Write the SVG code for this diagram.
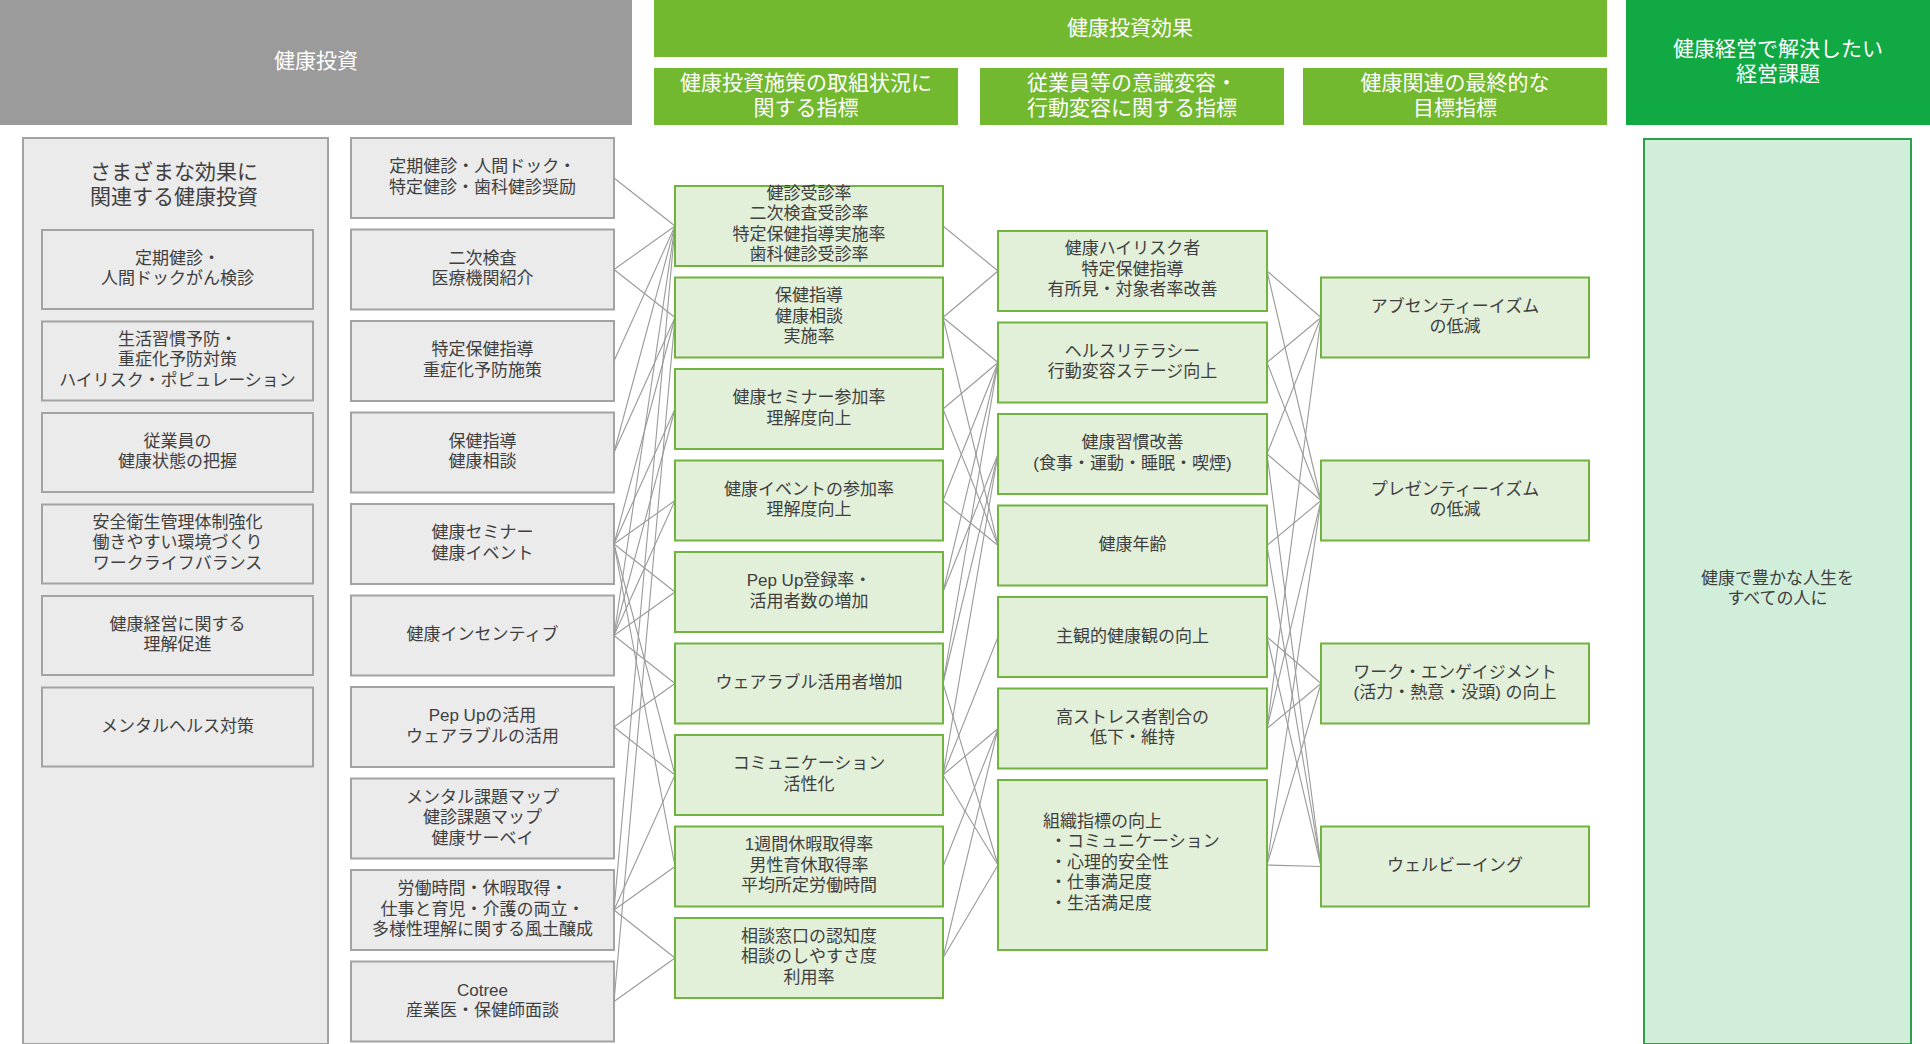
<svg xmlns="http://www.w3.org/2000/svg" width="1930" height="1044" viewBox="0 0 1930 1044">
<style>
text{font-family:"Liberation Sans","Noto Sans CJK JP",sans-serif;}
.t{font-size:17px;fill:#404040;text-anchor:middle;dominant-baseline:central;}
.tl{font-size:17px;fill:#404040;text-anchor:start;dominant-baseline:central;}
.h{font-size:21px;fill:#ffffff;text-anchor:middle;dominant-baseline:central;}
.tt{font-size:21px;fill:#404040;text-anchor:middle;dominant-baseline:central;}
.g{fill:#ebebeb;stroke:#a3a3a3;stroke-width:2;}
.n{fill:#e2efd9;stroke:#70b33e;stroke-width:2;}
.c line{stroke:#9a9a9a;stroke-width:1.1;}
</style>
<rect width="1930" height="1044" fill="#ffffff"/>
<g id="headers">
<rect x="0" y="0" width="632" height="125" fill="#9b9b9b"/>
<text class="h" x="316" y="60">健康投資</text>
<rect x="654" y="0" width="953" height="57" fill="#72b92f"/>
<text class="h" x="1130" y="27">健康投資効果</text>
<rect x="654" y="68" width="304" height="57" fill="#72b92f"/>
<text class="h" x="806" y="82">健康投資施策の取組状況に</text>
<text class="h" x="806" y="107">関する指標</text>
<rect x="980" y="68" width="304" height="57" fill="#72b92f"/>
<text class="h" x="1132" y="82">従業員等の意識変容・</text>
<text class="h" x="1132" y="107">行動変容に関する指標</text>
<rect x="1303" y="68" width="304" height="57" fill="#72b92f"/>
<text class="h" x="1455" y="82">健康関連の最終的な</text>
<text class="h" x="1455" y="107">目標指標</text>
<rect x="1626" y="0" width="304" height="125" fill="#10a944"/>
<text class="h" x="1778" y="48">健康経営で解決したい</text>
<text class="h" x="1778" y="73">経営課題</text>
</g>
<g id="col1">
<rect class="g" x="23" y="138" width="305" height="906"/>
<text class="tt" x="174" y="171">さまざまな効果に</text>
<text class="tt" x="174" y="196">関連する健康投資</text>
</g>
<g id="c1b1"><rect class="g" x="42" y="230" width="271" height="79"/><text class="t" x="177.5" y="258">定期健診・</text><text class="t" x="177.5" y="278.5">人間ドックがん検診</text></g>
<g id="c1b2"><rect class="g" x="42" y="321.5" width="271" height="79"/><text class="t" x="177.5" y="339">生活習慣予防・</text><text class="t" x="177.5" y="359.5">重症化予防対策</text><text class="t" x="177.5" y="380">ハイリスク・ポピュレーション</text></g>
<g id="c1b3"><rect class="g" x="42" y="413" width="271" height="79"/><text class="t" x="177.5" y="441">従業員の</text><text class="t" x="177.5" y="461.5">健康状態の把握</text></g>
<g id="c1b4"><rect class="g" x="42" y="504.5" width="271" height="79"/><text class="t" x="177.5" y="522">安全衛生管理体制強化</text><text class="t" x="177.5" y="542.5">働きやすい環境づくり</text><text class="t" x="177.5" y="563">ワークライフバランス</text></g>
<g id="c1b5"><rect class="g" x="42" y="596" width="271" height="79"/><text class="t" x="177.5" y="624">健康経営に関する</text><text class="t" x="177.5" y="644.5">理解促進</text></g>
<g id="c1b6"><rect class="g" x="42" y="687.5" width="271" height="79"/><text class="t" x="177.5" y="726">メンタルヘルス対策</text></g>

<g id="c2b1"><rect class="g" x="351" y="138" width="263" height="80"/><text class="t" x="482.5" y="166.5">定期健診・人間ドック・</text><text class="t" x="482.5" y="187">特定健診・歯科健診奨励</text></g>
<g id="c2b2"><rect class="g" x="351" y="229.5" width="263" height="80"/><text class="t" x="482.5" y="258">二次検査</text><text class="t" x="482.5" y="278.5">医療機関紹介</text></g>
<g id="c2b3"><rect class="g" x="351" y="321" width="263" height="80"/><text class="t" x="482.5" y="349.5">特定保健指導</text><text class="t" x="482.5" y="370">重症化予防施策</text></g>
<g id="c2b4"><rect class="g" x="351" y="412.5" width="263" height="80"/><text class="t" x="482.5" y="441">保健指導</text><text class="t" x="482.5" y="461.5">健康相談</text></g>
<g id="c2b5"><rect class="g" x="351" y="504" width="263" height="80"/><text class="t" x="482.5" y="532.5">健康セミナー</text><text class="t" x="482.5" y="553">健康イベント</text></g>
<g id="c2b6"><rect class="g" x="351" y="595.5" width="263" height="80"/><text class="t" x="482.5" y="634.5">健康インセンティブ</text></g>
<g id="c2b7"><rect class="g" x="351" y="687" width="263" height="80"/><text class="t" x="482.5" y="715.5">Pep Upの活用</text><text class="t" x="482.5" y="736">ウェアラブルの活用</text></g>
<g id="c2b8"><rect class="g" x="351" y="778.5" width="263" height="80"/><text class="t" x="482.5" y="797">メンタル課題マップ</text><text class="t" x="482.5" y="817.5">健診課題マップ</text><text class="t" x="482.5" y="838">健康サーベイ</text></g>
<g id="c2b9"><rect class="g" x="351" y="870" width="263" height="80"/><text class="t" x="482.5" y="888.5">労働時間・休暇取得・</text><text class="t" x="482.5" y="909">仕事と育児・介護の両立・</text><text class="t" x="482.5" y="929.5">多様性理解に関する風土醸成</text></g>
<g id="c2b10"><rect class="g" x="351" y="961.5" width="263" height="80"/><text class="t" x="482.5" y="990">Cotree</text><text class="t" x="482.5" y="1010.5">産業医・保健師面談</text></g>

<g id="connectors" class="c">
<line x1="614" y1="178" x2="675" y2="226"/>
<line x1="614" y1="269.5" x2="675" y2="226"/>
<line x1="614" y1="269.5" x2="675" y2="317.5"/>
<line x1="614" y1="361" x2="675" y2="226"/>
<line x1="614" y1="452.5" x2="675" y2="226"/>
<line x1="614" y1="452.5" x2="675" y2="317.5"/>
<line x1="614" y1="544" x2="675" y2="317.5"/>
<line x1="614" y1="544" x2="675" y2="409"/>
<line x1="614" y1="544" x2="675" y2="500.5"/>
<line x1="614" y1="544" x2="675" y2="592"/>
<line x1="614" y1="544" x2="675" y2="775"/>
<line x1="614" y1="544" x2="675" y2="866.5"/>
<line x1="614" y1="635.5" x2="675" y2="226"/>
<line x1="614" y1="635.5" x2="675" y2="409"/>
<line x1="614" y1="635.5" x2="675" y2="500.5"/>
<line x1="614" y1="635.5" x2="675" y2="592"/>
<line x1="614" y1="635.5" x2="675" y2="683.5"/>
<line x1="614" y1="727" x2="675" y2="683.5"/>
<line x1="614" y1="727" x2="675" y2="775"/>
<line x1="614" y1="910" x2="675" y2="226"/>
<line x1="614" y1="910" x2="675" y2="775"/>
<line x1="614" y1="910" x2="675" y2="866.5"/>
<line x1="614" y1="910" x2="675" y2="958"/>
<line x1="614" y1="1001.5" x2="675" y2="317.5"/>
<line x1="614" y1="1001.5" x2="675" y2="958"/>

<line x1="943" y1="226" x2="998" y2="271"/>
<line x1="943" y1="317.5" x2="998" y2="271"/>
<line x1="943" y1="317.5" x2="998" y2="362.5"/>
<line x1="943" y1="317.5" x2="998" y2="545.5"/>
<line x1="943" y1="409" x2="998" y2="362.5"/>
<line x1="943" y1="409" x2="998" y2="545.5"/>
<line x1="943" y1="500.5" x2="998" y2="362.5"/>
<line x1="943" y1="500.5" x2="998" y2="545.5"/>
<line x1="943" y1="592" x2="998" y2="362.5"/>
<line x1="943" y1="592" x2="998" y2="454"/>
<line x1="943" y1="683.5" x2="998" y2="362.5"/>
<line x1="943" y1="683.5" x2="998" y2="454"/>
<line x1="943" y1="683.5" x2="998" y2="865"/>
<line x1="943" y1="775" x2="998" y2="454"/>
<line x1="943" y1="775" x2="998" y2="637"/>
<line x1="943" y1="775" x2="998" y2="728.5"/>
<line x1="943" y1="775" x2="998" y2="865"/>
<line x1="943" y1="866.5" x2="998" y2="728.5"/>
<line x1="943" y1="958" x2="998" y2="728.5"/>
<line x1="943" y1="958" x2="998" y2="865"/>

<line x1="1267" y1="271" x2="1321" y2="317.5"/>
<line x1="1267" y1="271" x2="1321" y2="500.5"/>
<line x1="1267" y1="362.5" x2="1321" y2="317.5"/>
<line x1="1267" y1="362.5" x2="1321" y2="500.5"/>
<line x1="1267" y1="454" x2="1321" y2="317.5"/>
<line x1="1267" y1="454" x2="1321" y2="500.5"/>
<line x1="1267" y1="454" x2="1321" y2="866.5"/>
<line x1="1267" y1="545.5" x2="1321" y2="500.5"/>
<line x1="1267" y1="545.5" x2="1321" y2="866.5"/>
<line x1="1267" y1="637" x2="1321" y2="683.5"/>
<line x1="1267" y1="637" x2="1321" y2="866.5"/>
<line x1="1267" y1="728.5" x2="1321" y2="317.5"/>
<line x1="1267" y1="728.5" x2="1321" y2="500.5"/>
<line x1="1267" y1="728.5" x2="1321" y2="683.5"/>
<line x1="1267" y1="865" x2="1321" y2="500.5"/>
<line x1="1267" y1="865" x2="1321" y2="683.5"/>
<line x1="1267" y1="865" x2="1321" y2="866.5"/>
</g>

<g id="c3b1"><rect class="n" x="675" y="186" width="268" height="80"/><text class="t" x="809" y="193">健診受診率</text><text class="t" x="809" y="213.5">二次検査受診率</text><text class="t" x="809" y="234">特定保健指導実施率</text><text class="t" x="809" y="254.5">歯科健診受診率</text></g>
<g id="c3b2"><rect class="n" x="675" y="277.5" width="268" height="80"/><text class="t" x="809" y="295.5">保健指導</text><text class="t" x="809" y="316">健康相談</text><text class="t" x="809" y="336.5">実施率</text></g>
<g id="c3b3"><rect class="n" x="675" y="369" width="268" height="80"/><text class="t" x="809" y="397.5">健康セミナー参加率</text><text class="t" x="809" y="418">理解度向上</text></g>
<g id="c3b4"><rect class="n" x="675" y="460.5" width="268" height="80"/><text class="t" x="809" y="489">健康イベントの参加率</text><text class="t" x="809" y="509.5">理解度向上</text></g>
<g id="c3b5"><rect class="n" x="675" y="552" width="268" height="80"/><text class="t" x="809" y="580.5">Pep Up登録率・</text><text class="t" x="809" y="601">活用者数の増加</text></g>
<g id="c3b6"><rect class="n" x="675" y="643.5" width="268" height="80"/><text class="t" x="809" y="682.5">ウェアラブル活用者増加</text></g>
<g id="c3b7"><rect class="n" x="675" y="735" width="268" height="80"/><text class="t" x="809" y="763.5">コミュニケーション</text><text class="t" x="809" y="784">活性化</text></g>
<g id="c3b8"><rect class="n" x="675" y="826.5" width="268" height="80"/><text class="t" x="809" y="844.5">1週間休暇取得率</text><text class="t" x="809" y="865">男性育休取得率</text><text class="t" x="809" y="885.5">平均所定労働時間</text></g>
<g id="c3b9"><rect class="n" x="675" y="918" width="268" height="80"/><text class="t" x="809" y="936">相談窓口の認知度</text><text class="t" x="809" y="956.5">相談のしやすさ度</text><text class="t" x="809" y="977">利用率</text></g>

<g id="c4b1"><rect class="n" x="998" y="231" width="269" height="80"/><text class="t" x="1132.5" y="248.5">健康ハイリスク者</text><text class="t" x="1132.5" y="269">特定保健指導</text><text class="t" x="1132.5" y="289.5">有所見・対象者率改善</text></g>
<g id="c4b2"><rect class="n" x="998" y="322.5" width="269" height="80"/><text class="t" x="1132.5" y="351">ヘルスリテラシー</text><text class="t" x="1132.5" y="371.5">行動変容ステージ向上</text></g>
<g id="c4b3"><rect class="n" x="998" y="414" width="269" height="80"/><text class="t" x="1132.5" y="442.5">健康習慣改善</text><text class="t" x="1132.5" y="463">(食事・運動・睡眠・喫煙)</text></g>
<g id="c4b4"><rect class="n" x="998" y="505.5" width="269" height="80"/><text class="t" x="1132.5" y="544.5">健康年齢</text></g>
<g id="c4b5"><rect class="n" x="998" y="597" width="269" height="80"/><text class="t" x="1132.5" y="636">主観的健康観の向上</text></g>
<g id="c4b6"><rect class="n" x="998" y="688.5" width="269" height="80"/><text class="t" x="1132.5" y="717">高ストレス者割合の</text><text class="t" x="1132.5" y="737.5">低下・維持</text></g>
<g id="c4b7"><rect class="n" x="998" y="780" width="269" height="170"/><text class="tl" x="1043" y="821">組織指標の向上</text><text class="tl" x="1050" y="841.5">・コミュニケーション</text><text class="tl" x="1050" y="862">・心理的安全性</text><text class="tl" x="1050" y="882.5">・仕事満足度</text><text class="tl" x="1050" y="903">・生活満足度</text></g>

<g id="c5b1"><rect class="n" x="1321" y="277.5" width="268" height="80"/><text class="t" x="1455" y="306">アブセンティーイズム</text><text class="t" x="1455" y="326.5">の低減</text></g>
<g id="c5b2"><rect class="n" x="1321" y="460.5" width="268" height="80"/><text class="t" x="1455" y="489">プレゼンティーイズム</text><text class="t" x="1455" y="509.5">の低減</text></g>
<g id="c5b3"><rect class="n" x="1321" y="643.5" width="268" height="80"/><text class="t" x="1455" y="672">ワーク・エンゲイジメント</text><text class="t" x="1455" y="692.5">(活力・熱意・没頭) の向上</text></g>
<g id="c5b4"><rect class="n" x="1321" y="826.5" width="268" height="80"/><text class="t" x="1455" y="865.5">ウェルビーイング</text></g>

<g id="c6"><rect x="1644" y="139" width="267" height="905" fill="#d1eedb" stroke="#2aa24b" stroke-width="2"/><text class="t" x="1777.5" y="578">健康で豊かな人生を</text><text class="t" x="1777.5" y="598.5">すべての人に</text></g>
</svg>
